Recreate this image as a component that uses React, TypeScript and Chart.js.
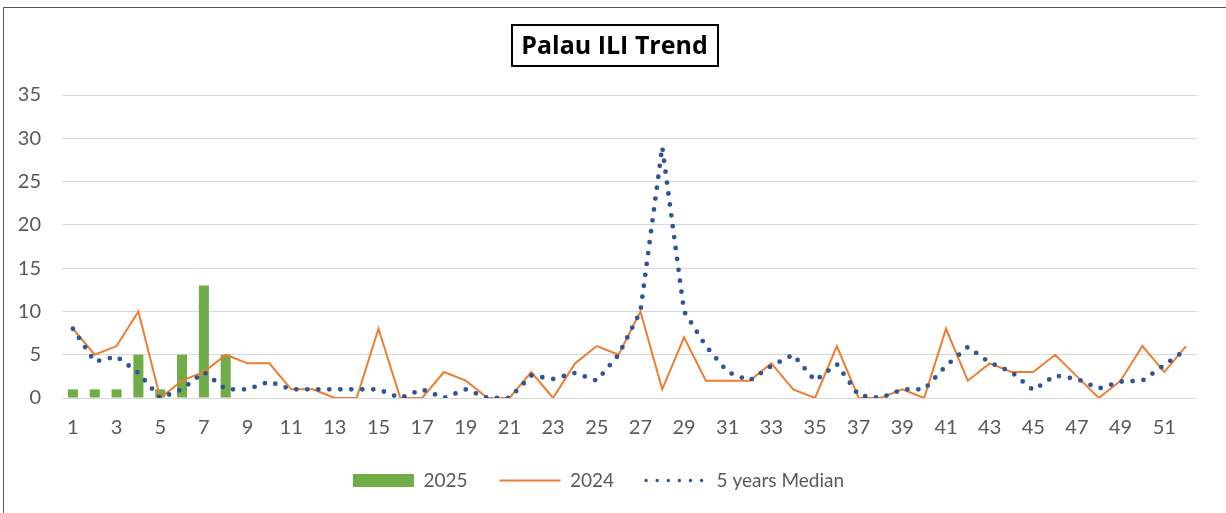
import React, { useEffect, useRef } from "react";
import { Chart, registerables } from "chart.js";

Chart.register(...registerables);

const TITLE = "Palau ILI Trend";

const weeks = [
  "1", "2", "3", "4", "5", "6", "7", "8", "9", "10",
  "11", "12", "13", "14", "15", "16", "17", "18", "19", "20",
  "21", "22", "23", "24", "25", "26", "27", "28", "29", "30",
  "31", "32", "33", "34", "35", "36", "37", "38", "39", "40",
  "41", "42", "43", "44", "45", "46", "47", "48", "49", "50",
  "51", "52",
];

const shownTicks = [
  "1", "3", "5", "7", "9", "11", "13", "15", "17", "19", "21", "23", "25",
  "27", "29", "31", "33", "35", "37", "39", "41", "43", "45", "47", "49", "51",
];

const yTicks = [0, 5, 10, 15, 20, 25, 30, 35];

const values2025 = [1, 1, 1, 5, 1, 5, 13, 5];

const values2024 = [
  8, 5, 6, 10, 0, 2, 3, 5, 4, 4,
  1, 1, 0, 0, 8, 0, 0, 3, 2, 0,
  0, 3, 0, 4, 6, 5, 10, 1, 7, 2,
  2, 2, 4, 1, 0, 6, 0, 0, 1, 0,
  8, 2, 4, 3, 3, 5, 2.5, 0, 2, 6,
  3, 6,
];

const median5y = [
  8, 4.2, 4.8, 2.9, 0, 1, 3, 1, 1, 1.9,
  1, 1, 1, 1, 1, 0, 1, 0, 1, 0,
  0, 2.6, 2.2, 2.9, 2, 5, 10, 29, 10, 6,
  3, 2, 3.7, 5, 2, 3.9, 0.3, 0, 1, 1,
  3.7, 5.9, 4.1, 3, 0.9, 2.6, 2.2, 1.1, 1.9, 2,
  3.8, 5.6,
];

const GREEN = "#70ad47";
const ORANGE = "#ed7d31";
const BLUE = "#2f5597";
const TEXT = "#595959";
const GRID = "#d9d9d9";

const TITLE_FONT = "bold 25px 'Open Sans'";
const TITLE_CX = 614.5;
const TITLE_CY = 45.5;
const LEGEND_W = 61;
const FONT = "Lato";

const titlePlugin = {
  id: "boxedTitle",
  afterDraw(chart: any) {
    const ctx = chart.ctx;
    ctx.save();
    ctx.font = TITLE_FONT;
    const w = ctx.measureText(TITLE).width;
    const bw = Math.round(w + 20);
    const bh = 41;
    ctx.fillStyle = "#ffffff";
    ctx.fillRect(Math.round(TITLE_CX - bw / 2), Math.round(TITLE_CY - bh / 2), bw, bh);
    ctx.strokeStyle = "#000000";
    ctx.lineWidth = 2;
    ctx.strokeRect(Math.round(TITLE_CX - bw / 2), Math.round(TITLE_CY - bh / 2), bw, bh);
    ctx.fillStyle = "#000000";
    ctx.textAlign = "center";
    ctx.textBaseline = "middle";
    ctx.fillText(TITLE, TITLE_CX, TITLE_CY + 1);
    ctx.restore();
  },
};

export default function App() {
  const ref = useRef<HTMLCanvasElement | null>(null);

  useEffect(() => {
    if (!ref.current) return;
    const chart = new Chart(ref.current, {
      type: "bar",
      data: {
        labels: weeks,
        datasets: [
          {
            type: "bar",
            label: "2025",
            data: values2025,
            backgroundColor: GREEN,
            borderWidth: 0,
            categoryPercentage: 1,
            barPercentage: 0.46,
            order: 3,
          },
          {
            type: "line",
            label: "2024",
            data: values2024,
            borderColor: ORANGE,
            backgroundColor: ORANGE,
            borderWidth: 2,
            pointRadius: 0,
            tension: 0,
            order: 2,
          },
          {
            type: "line",
            label: "5 years Median",
            data: median5y,
            borderColor: BLUE,
            backgroundColor: BLUE,
            borderWidth: 4.8,
            borderDash: [0, 11],
            borderCapStyle: "round",
            pointRadius: 0,
            tension: 0,
            order: 1,
          },
        ] as any,
      },
      options: {
        animation: false,
        responsive: false,
        maintainAspectRatio: false,
        devicePixelRatio: 1,
        layout: { padding: { left: 0, right: 29, top: 95, bottom: 13 } },
        plugins: {
          tooltip: { enabled: false },
          title: { display: false },
          legend: {
            position: "bottom",
            labels: {
              usePointStyle: true,
              pointStyleWidth: LEGEND_W,
              boxWidth: LEGEND_W,
              boxHeight: 13,
              padding: 32,
              color: TEXT,
              font: { family: FONT, size: 19 },
              generateLabels: (c: any) =>
                c.data.datasets.map((ds: any, i: number) => {
                  if (i === 0) {
                    return {
                      text: ds.label,
                      fillStyle: GREEN,
                      strokeStyle: GREEN,
                      lineWidth: 0,
                      pointStyle: "rect",
                      datasetIndex: i,
                      fontColor: TEXT,
                    };
                  }
                  if (i === 1) {
                    return {
                      text: ds.label,
                      fillStyle: ORANGE,
                      strokeStyle: ORANGE,
                      lineWidth: 2,
                      pointStyle: "line",
                      datasetIndex: i,
                      fontColor: TEXT,
                    };
                  }
                  return {
                    text: ds.label,
                    fillStyle: BLUE,
                    strokeStyle: BLUE,
                    lineWidth: 3.5,
                    lineDash: [0, (LEGEND_W * 2) / 11],
                    lineCap: "round",
                    pointStyle: "line",
                    datasetIndex: i,
                    fontColor: TEXT,
                  };
                }),
            },
          },
        },
        scales: {
          x: {
            offset: true,
            afterFit: (s: any) => {
              s.height = 41;
            },
            grid: { display: false, drawTicks: false },
            border: { display: false },
            ticks: {
              autoSkip: false,
              maxRotation: 0,
              minRotation: 0,
              padding: 18,
              color: TEXT,
              font: { family: FONT, size: 20 },
              callback: (_v: any, i: number) =>
                shownTicks.includes(weeks[i]) ? weeks[i] : "",
            },
          },
          y: {
            min: yTicks[0],
            max: yTicks[yTicks.length - 1],
            afterFit: (s: any) => {
              s.width = 62;
            },
            afterBuildTicks: (s: any) => {
              s.ticks = yTicks.map((v) => ({ value: v }));
            },
            grid: { color: GRID, lineWidth: 1, drawTicks: false },
            border: { display: false },
            ticks: {
              padding: 21,
              color: TEXT,
              font: { family: FONT, size: 20 },
            },
          },
        },
      } as any,
      plugins: [titlePlugin],
    });
    return () => chart.destroy();
  }, []);

  return (
    <div
      style={{
        position: "fixed",
        left: 0,
        top: 0,
        width: 1226,
        height: 513,
        overflow: "hidden",
        background: "#ffffff",
      }}
    >
      <canvas ref={ref} width={1226} height={513} style={{ width: 1226, height: 513, display: "block" }} />
      <div
        style={{
          position: "absolute",
          left: 3,
          top: 7,
          width: 1300,
          height: 600,
          borderLeft: "1px solid #595959",
          borderTop: "1px solid #595959",
          pointerEvents: "none",
        }}
      />
    </div>
  );
}
